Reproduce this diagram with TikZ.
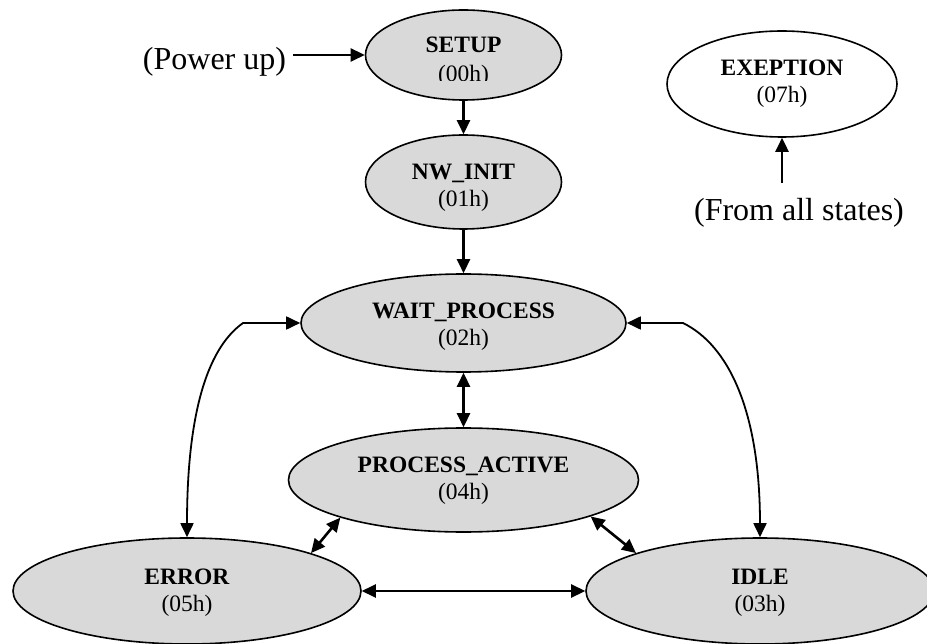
\documentclass[tikz,border=0pt]{standalone}
\usepackage{fontspec}
\setmainfont{Liberation Serif}
\usetikzlibrary{shapes.geometric,arrows.meta}
\begin{document}
\begin{tikzpicture}[x=1pt,y=-1pt,
  statefont/.style={font=\fontsize{23.5}{27}\selectfont},
  boldfont/.style={font=\fontsize{23.5}{27}\selectfont\bfseries},
  state/.style={ellipse, draw, line width=1.6pt, fill=black!15, inner sep=0pt},
  statetext/.style={statefont, align=center, inner sep=0pt},
  link/.style={line width=2.6pt, -{Triangle[length=14pt,width=13pt]}},
  biline/.style={line width=2.6pt,
    {Triangle[length=14pt,width=13pt]}-{Triangle[length=14pt,width=13pt]}},
  bicurve/.style={line width=1.8pt,
    {Triangle[length=14pt,width=13pt]}-{Triangle[length=14pt,width=13pt]}},
  note/.style={font=\fontsize{32}{36}\selectfont, inner sep=0pt}]

\useasboundingbox (0,0) rectangle (927,644);

% --- states ---------------------------------------------------------
\node[state, minimum width=196pt, minimum height=90pt] (SETUP) at (463.5,55) {};
\node[boldfont, inner sep=0pt, anchor=base] (setupname) at (463.5,53) {SETUP};
\begin{scope}
  \clip (366,30) rectangle (562,80.5);
  \node[statefont, inner sep=0pt, anchor=base] (setupcode) at (463.5,82) {(00h)};
\end{scope}

\node[state, minimum width=196pt, minimum height=94pt] (NWINIT) at (463.5,182) {};
\node[statetext] (nwinittext) at ([yshift=-5.5pt]NWINIT.center)
  {\textbf{NW\_INIT}\\(01h)};

\node[state, minimum width=325pt, minimum height=98pt] (WAIT) at (463.5,323) {};
\node[statetext] (waittext) at ([yshift=-4pt]WAIT.center)
  {\textbf{WAIT\_PROCESS}\\(02h)};

\node[state, minimum width=350pt, minimum height=104pt] (PA) at (463.5,480) {};
\node[statetext] (patext) at ([yshift=-0.5pt]PA.center)
  {\textbf{PROCESS\_ACTIVE}\\(04h)};

\node[state, minimum width=348pt, minimum height=106pt] (ERROR) at (187,591) {};
\node[statetext] (errortext) at ([yshift=-1.5pt]ERROR.center)
  {\textbf{ERROR}\\(05h)};

\node[state, minimum width=348pt, minimum height=106pt] (IDLE) at (760,591) {};
\node[statetext] (idletext) at ([yshift=-1.5pt]IDLE.center)
  {\textbf{IDLE}\\(03h)};

\node[state, fill=white, minimum width=230pt, minimum height=106pt] (EXC) at (782,84) {};
\node[statetext] (exctext) at (EXC.center)
  {\textbf{EXEPTION}\\(07h)};

% --- free labels ------------------------------------------------------
\node[note, outer xsep=7pt] (power) at (214.5,62) {(Power up)};
\node[note] (fromall) at (799,213) {(From all states)};
\coordinate (fromsrc) at (782,183);

% --- transitions --------------------------------------------------------
\draw[link] (power.east |- SETUP.west) -- (SETUP.west);
\draw[link] (SETUP.south) -- (NWINIT.north);
\draw[link] (NWINIT.south) -- (WAIT.north);
\draw[link] (fromsrc) -- (EXC.south);
\draw[biline] (WAIT.south) -- (PA.north);
\draw[biline] (ERROR.17) -- (PA.197);
\draw[biline] (PA.-16) -- (IDLE.163);
\draw[biline] (ERROR.east) -- (IDLE.west);

\coordinate (lbend) at (243,323);
\coordinate (rbend) at (683,323);
\draw[bicurve] (WAIT.west) -- (lbend)
  .. controls (205,350) and (187,420) .. (ERROR.north);
\draw[bicurve] (WAIT.east) -- (rbend)
  .. controls (728,345) and (760,410) .. (IDLE.north);
\end{tikzpicture}
\end{document}
